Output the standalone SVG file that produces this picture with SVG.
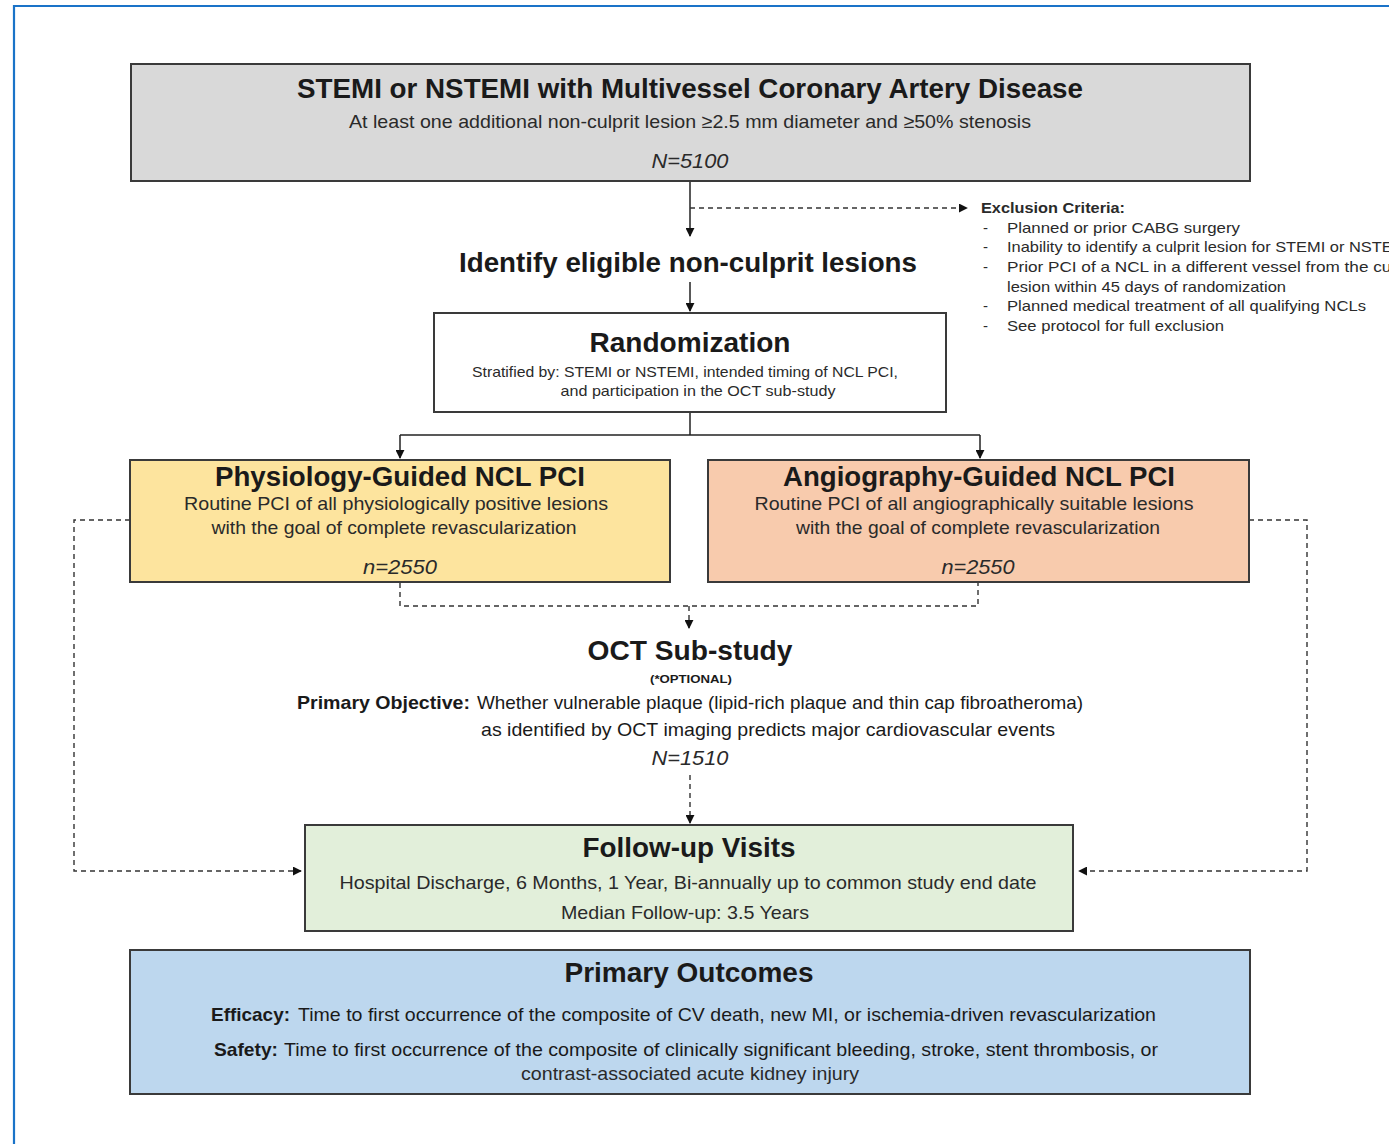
<svg xmlns="http://www.w3.org/2000/svg" width="1389" height="1144" viewBox="0 0 1389 1144">
<defs>
<style>
text{font-family:"Liberation Sans Narrow","Liberation Sans",Arial,sans-serif;fill:#1a1a1a}
.box{stroke:#3a3a3a;stroke-width:2}
.t{font-family:"Liberation Sans",Arial,sans-serif;font-weight:bold;font-size:28.5px;text-anchor:middle}
.s{font-size:19px;text-anchor:middle;fill:#2a2a2a}
.sm{font-size:15px;fill:#2a2a2a}
.n{font-size:21px;font-style:italic;text-anchor:middle;fill:#2a2a2a}
.b{font-weight:bold}
.solid{stroke:#222;stroke-width:1.5;fill:none}
.dash{stroke:#333;stroke-width:1.4;fill:none;stroke-dasharray:5 4}
</style>
<marker id="ah" viewBox="0 0 10 10" refX="9" refY="5" markerWidth="9" markerHeight="9" markerUnits="userSpaceOnUse" orient="auto">
<path d="M0,0 L10,5 L0,10 z" fill="#111"/>
</marker>
</defs>
<rect width="1389" height="1144" fill="#fff"/>
<path d="M14,1144 V6 H1389" fill="none" stroke="#1a73c8" stroke-width="2.2"/>

<g id="connectors">
<path class="solid" d="M690,181 V236" marker-end="url(#ah)"/>
<path class="dash" d="M690,208 H967" marker-end="url(#ah)"/>
<path class="solid" d="M690,282 V311" marker-end="url(#ah)"/>
<path class="solid" d="M690,412 V435"/>
<path class="solid" d="M400,435 H980"/>
<path class="solid" d="M400,435 V458" marker-end="url(#ah)"/>
<path class="solid" d="M980,435 V458" marker-end="url(#ah)"/>
<path class="dash" d="M400,583 V606 H978 V583"/>
<path class="dash" d="M689,606 V628" marker-end="url(#ah)"/>
<path class="dash" d="M130,520 H74 V871 H301" marker-end="url(#ah)"/>
<path class="dash" d="M1249,520 H1307 V871 H1079" marker-end="url(#ah)"/>
<path class="dash" d="M690,775 V823" marker-end="url(#ah)"/>
</g>

<g id="node-population">
<rect class="box" x="131" y="64" width="1119" height="117" fill="#d9d9d9"/>
<text class="t" x="690" y="98" textLength="786" lengthAdjust="spacingAndGlyphs">STEMI or NSTEMI with Multivessel Coronary Artery Disease</text>
<text class="s" x="690" y="128" font-size="18" textLength="682" lengthAdjust="spacingAndGlyphs">At least one additional  non-culprit lesion ≥2.5 mm diameter and ≥50% stenosis</text>
<text class="n" x="690" y="168" textLength="77" lengthAdjust="spacingAndGlyphs">N=5100</text>
</g>

<g id="node-exclusion">
<text class="sm b" x="981" y="213" textLength="144" lengthAdjust="spacingAndGlyphs">Exclusion Criteria:</text>
<text class="sm" x="983" y="233">-</text>
<text class="sm" x="1007" y="233" textLength="233" lengthAdjust="spacingAndGlyphs">Planned  or prior CABG  surgery</text>
<text class="sm" x="983" y="252">-</text>
<text class="sm" x="1007" y="252" textLength="404" lengthAdjust="spacingAndGlyphs">Inability  to identify a culprit lesion  for STEMI  or NSTEMI</text>
<text class="sm" x="983" y="272">-</text>
<text class="sm" x="1007" y="272" textLength="412" lengthAdjust="spacingAndGlyphs">Prior  PCI  of a NCL  in a different vessel from the culprit</text>
<text class="sm" x="1007" y="292" textLength="279" lengthAdjust="spacingAndGlyphs">lesion  within 45 days of randomization</text>
<text class="sm" x="983" y="311">-</text>
<text class="sm" x="1007" y="311" textLength="359" lengthAdjust="spacingAndGlyphs">Planned  medical  treatment  of all  qualifying  NCLs</text>
<text class="sm" x="983" y="331">-</text>
<text class="sm" x="1007" y="331" textLength="217" lengthAdjust="spacingAndGlyphs">See protocol  for full exclusion</text>
</g>

<g id="node-identify">
<text class="t" x="688" y="272" textLength="458" lengthAdjust="spacingAndGlyphs">Identify eligible non-culprit lesions</text>
</g>

<g id="node-randomization">
<rect class="box" x="434" y="313" width="512" height="99" fill="#fff"/>
<text class="t" x="690" y="352" textLength="201" lengthAdjust="spacingAndGlyphs">Randomization</text>
<text class="sm" x="685" y="377" text-anchor="middle" textLength="426" lengthAdjust="spacingAndGlyphs">Stratified by:  STEMI  or NSTEMI,  intended timing  of NCL  PCI,</text>
<text class="sm" x="698" y="396" text-anchor="middle" textLength="275" lengthAdjust="spacingAndGlyphs">and participation  in the OCT  sub-study</text>
</g>

<g id="node-physiology">
<rect class="box" x="130" y="460" width="540" height="122" fill="#fde49e"/>
<text class="t" x="400" y="486" textLength="370" lengthAdjust="spacingAndGlyphs">Physiology-Guided NCL PCI</text>
<text class="s" x="396" y="510" textLength="424" lengthAdjust="spacingAndGlyphs">Routine PCI of all physiologically positive  lesions</text>
<text class="s" x="394" y="534" textLength="365" lengthAdjust="spacingAndGlyphs">with the goal of complete revascularization</text>
<text class="n" x="400" y="574" textLength="74" lengthAdjust="spacingAndGlyphs">n=2550</text>
</g>

<g id="node-angiography">
<rect class="box" x="708" y="460" width="541" height="122" fill="#f8cbad"/>
<text class="t" x="979" y="486" textLength="392" lengthAdjust="spacingAndGlyphs">Angiography-Guided NCL PCI</text>
<text class="s" x="974" y="510" textLength="439" lengthAdjust="spacingAndGlyphs">Routine PCI of all angiographically  suitable lesions</text>
<text class="s" x="978" y="534" textLength="364" lengthAdjust="spacingAndGlyphs">with the goal of complete revascularization</text>
<text class="n" x="978" y="574" textLength="73" lengthAdjust="spacingAndGlyphs">n=2550</text>
</g>

<g id="node-oct">
<text class="t" x="690" y="660" textLength="205" lengthAdjust="spacingAndGlyphs">OCT Sub-study</text>
<text class="b" x="691" y="683" font-size="11.5" text-anchor="middle" textLength="82" lengthAdjust="spacingAndGlyphs">(*OPTIONAL)</text>
<text class="b" x="297" y="709" font-size="19" textLength="173" lengthAdjust="spacingAndGlyphs">Primary Objective:</text>
<text x="477" y="709" font-size="19" fill="#2a2a2a" textLength="606" lengthAdjust="spacingAndGlyphs">Whether vulnerable  plaque  (lipid-rich plaque and thin cap fibroatheroma)</text>
<text x="481" y="736" font-size="19" fill="#2a2a2a" textLength="574" lengthAdjust="spacingAndGlyphs">as identified  by OCT  imaging  predicts major cardiovascular  events</text>
<text class="n" x="690" y="765" textLength="77" lengthAdjust="spacingAndGlyphs">N=1510</text>
</g>

<g id="node-followup">
<rect class="box" x="305" y="825" width="768" height="106" fill="#e2efda"/>
<text class="t" x="689" y="857" textLength="213" lengthAdjust="spacingAndGlyphs">Follow-up Visits</text>
<text class="s" x="688" y="889" textLength="697" lengthAdjust="spacingAndGlyphs">Hospital Discharge,  6 Months,  1 Year,  Bi-annually  up to common study end date</text>
<text class="s" x="685" y="919" textLength="248" lengthAdjust="spacingAndGlyphs">Median Follow-up:  3.5 Years</text>
</g>

<g id="node-outcomes">
<rect class="box" x="130" y="950" width="1120" height="144" fill="#bdd7ee"/>
<text class="t" x="689" y="982" textLength="249" lengthAdjust="spacingAndGlyphs">Primary Outcomes</text>
<text class="b" x="211" y="1021" font-size="19" textLength="79" lengthAdjust="spacingAndGlyphs">Efficacy:</text>
<text x="298" y="1021" font-size="19" fill="#2a2a2a" textLength="858" lengthAdjust="spacingAndGlyphs">Time to first occurrence  of the composite of CV death,  new MI,  or ischemia-driven  revascularization</text>
<text class="b" x="214" y="1056" font-size="19" textLength="64" lengthAdjust="spacingAndGlyphs">Safety:</text>
<text x="284" y="1056" font-size="19" fill="#2a2a2a" textLength="874" lengthAdjust="spacingAndGlyphs">Time to first occurrence  of the composite of clinically significant  bleeding,  stroke,  stent thrombosis,  or</text>
<text class="s" x="690" y="1080" textLength="338" lengthAdjust="spacingAndGlyphs">contrast-associated acute kidney injury</text>
</g>
</svg>
